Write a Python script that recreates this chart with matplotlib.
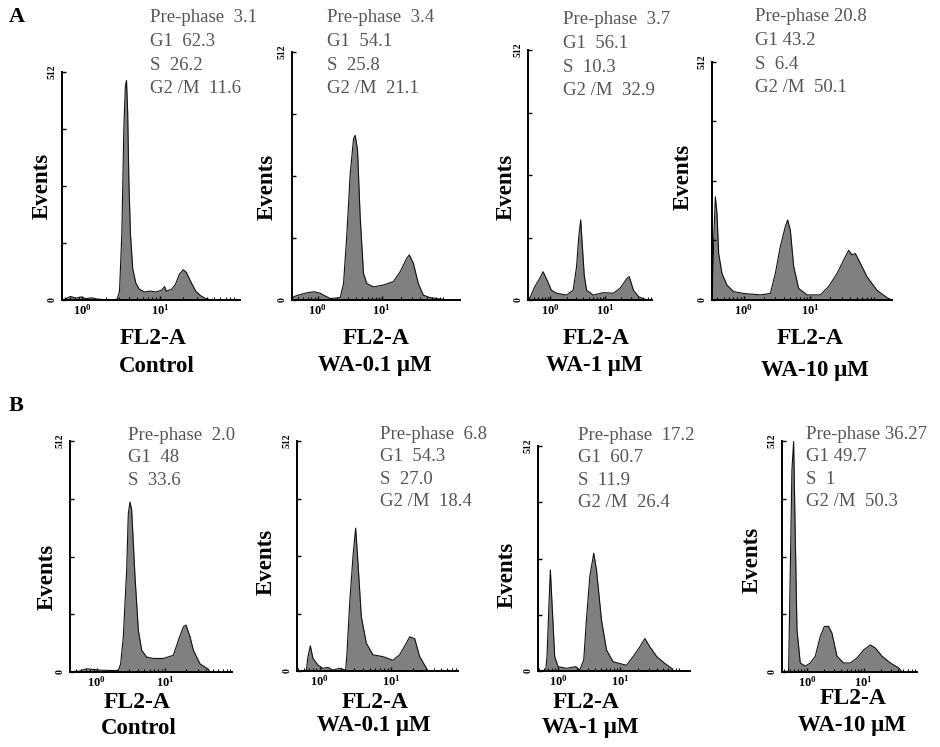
import numpy as np
import matplotlib
matplotlib.use('Agg')
import matplotlib.pyplot as plt

plt.rcParams['font.family'] = ['Liberation Serif', 'DejaVu Serif']
plt.rcParams['mathtext.fontset'] = 'custom'
plt.rcParams['mathtext.rm'] = 'Liberation Serif'
plt.rcParams['mathtext.bf'] = 'Liberation Serif:bold'

W, H = 940, 747

# histograms: log10(FL2-A) position and events (0-512 channel scale)
a1_log = [-0.30, -0.22, -0.15, -0.08, -0.02, 0.05, 0.12, 0.20, 0.28, 0.40, 0.45, 0.48, 0.51, 0.535, 0.555, 0.57, 0.585, 0.60, 0.62, 0.65,
          0.69, 0.73, 0.80, 0.88, 0.95, 1.02, 1.06, 1.08, 1.15, 1.20, 1.25, 1.30, 1.34, 1.40, 1.46, 1.52, 1.58, 1.65]
a1_cnt = [0, 2, 8, 4, 7, 3, 5, 2, 1, 0, 2, 20, 150, 380, 480, 493, 420, 270, 150, 70,
          38, 25, 18, 20, 18, 22, 30, 20, 24, 35, 58, 68, 62, 40, 20, 10, 4, 0]

a2_log = [-0.40, -0.37, -0.30, -0.166, -0.05, 0.04, 0.093, 0.197, 0.352, 0.404, 0.456, 0.508, 0.56, 0.585, 0.622, 0.663, 0.715, 0.767, 0.87, 1.026,
          1.181, 1.285, 1.389, 1.43, 1.492, 1.57, 1.648, 1.751, 1.907, 2.05]
a2_cnt = [0, 7, 10, 15, 17, 14, 10, 3, 5, 34, 137, 261, 333, 340, 310, 172, 55, 34, 27, 31,
          38, 58, 86, 93, 76, 34, 10, 5, 2, 0]

a3_log = [-0.41, -0.38, -0.288, -0.196, -0.135, -0.074, 0.018, 0.11, 0.294, 0.417, 0.479, 0.52, 0.555, 0.585, 0.62, 0.663, 0.785, 0.969, 1.153, 1.276,
          1.399, 1.442, 1.521, 1.613, 1.706, 1.80]
a3_cnt = [0, 3, 27, 44, 58, 44, 20, 14, 10, 20, 68, 130, 164, 110, 50, 20, 10, 15, 14, 24,
          44, 48, 20, 7, 2, 0]

a4_log = [-0.475, -0.46, -0.45, -0.425, -0.40, -0.375, -0.325, -0.25, -0.15, 0.0, 0.25, 0.40, 0.475, 0.55, 0.625, 0.66, 0.70, 0.75, 0.825, 0.95,
          1.15, 1.275, 1.40, 1.50, 1.575, 1.625, 1.675, 1.75, 1.85, 2.0, 2.15, 2.225]
a4_cnt = [0, 60, 129, 222, 186, 100, 57, 32, 18, 14, 11, 14, 57, 115, 158, 172, 150, 72, 25, 11,
          11, 29, 57, 86, 107, 97, 100, 79, 50, 21, 5, 0]

b1_log = [-0.39, -0.366, -0.25, -0.195, -0.146, 0.049, 0.317, 0.351, 0.39, 0.439, 0.463, 0.488, 0.512, 0.561, 0.61, 0.659, 0.732, 0.829, 0.976, 1.122,
          1.195, 1.268, 1.307, 1.366, 1.415, 1.512, 1.634, 1.659]
b1_cnt = [0, 1, 2, 5, 7, 4, 3, 18, 78, 226, 351, 377, 359, 211, 92, 48, 33, 30, 30, 37,
          70, 100, 104, 78, 48, 18, 6, 0]

b2_log = [-0.316, -0.186, -0.163, -0.13, -0.093, -0.023, 0.047, 0.116, 0.186, 0.279, 0.363, 0.381, 0.419, 0.465, 0.502, 0.535, 0.581, 0.651, 0.744, 0.884,
          1.023, 1.116, 1.209, 1.256, 1.326, 1.395, 1.465, 1.512]
b2_cnt = [0, 0, 32, 56, 28, 13, 6, 8, 2, 6, 2, 39, 151, 255, 318, 240, 121, 62, 36, 32,
          24, 36, 62, 76, 72, 32, 13, 0]

b3_log = [-0.324, -0.2, -0.178, -0.146, -0.124, -0.092, -0.054, 0.0, 0.135, 0.286, 0.351, 0.416, 0.459, 0.514, 0.578, 0.622, 0.703, 0.784, 0.892, 1.0,
          1.108, 1.216, 1.324, 1.405, 1.486, 1.595, 1.73, 1.838, 1.865]
b3_cnt = [0, 0, 33, 154, 230, 139, 33, 10, 6, 10, 2, 25, 116, 215, 268, 230, 116, 48, 21, 17,
          13, 33, 55, 74, 55, 33, 17, 6, 0]

b4_log = [-0.44, -0.324, -0.294, -0.265, -0.235, -0.206, -0.176, -0.118, -0.029, 0.059, 0.147, 0.235, 0.306, 0.382, 0.441, 0.529, 0.647, 0.765, 0.882, 1.0,
          1.118, 1.206, 1.324, 1.471, 1.618, 1.676]
b4_cnt = [0, 2, 226, 448, 511, 300, 94, 20, 13, 20, 35, 79, 101, 101, 86, 35, 20, 20, 31, 49,
          60, 53, 35, 20, 9, 0]

conditions = ['Control', 'WA-0.1 \u03bcM', 'WA-1 \u03bcM', 'WA-10 \u03bcM']

a_stats = ['Pre-phase  3.1\nG1  62.3\nS  26.2\nG2 /M  11.6',
           'Pre-phase  3.4\nG1  54.1\nS  25.8\nG2 /M  21.1',
           'Pre-phase  3.7\nG1  56.1\nS  10.3\nG2 /M  32.9',
           'Pre-phase 20.8\nG1 43.2\nS  6.4\nG2 /M  50.1']
b_stats = ['Pre-phase  2.0\nG1  48\nS  33.6',
           'Pre-phase  6.8\nG1  54.3\nS  27.0\nG2 /M  18.4',
           'Pre-phase  17.2\nG1  60.7\nS  11.9\nG2 /M  26.4',
           'Pre-phase 36.27\nG1 49.7\nS  1\nG2 /M  50.3']


def fx(x):
    return x / W


def fy(y):
    return 1 - y / H


fig = plt.figure(figsize=(W / 100, H / 100), dpi=100)

# panel boxes in pixels: left, top(512), right, baseline, log xmin, log xmax
panels = [
    (a1_log, a1_cnt, (62, 72, 240, 300), (-0.26, 2.03)),
    (a2_log, a2_cnt, (292, 52, 460, 300), (-0.40, 2.22)),
    (a3_log, a3_cnt, (528, 50, 652, 300), (-0.41, 1.86)),
    (a4_log, a4_cnt, (712, 62, 892, 300), (-0.475, 2.225)),
    (b1_log, b1_cnt, (70, 441, 232, 672), (-0.39, 1.98)),
    (b2_log, b2_cnt, (297, 441, 458, 671), (-0.316, 1.93)),
    (b3_log, b3_cnt, (538, 446, 690, 671), (-0.324, 2.135)),
    (b4_log, b4_cnt, (782, 441, 917, 672), (-0.44, 1.94)),
]

minor = [m * d for d in (0.1, 1, 10, 100) for m in range(2, 10)]

for lg, cnt, (l, t, r, b), (x0, x1) in panels:
    ax = fig.add_axes([fx(l), fy(b), (r - l) / W, (b - t) / H])
    fl = 10 ** np.array(lg)
    ax.fill_between(fl, cnt, 0, color='#808080', lw=0)
    ax.plot(fl, cnt, color='#111111', lw=0.8)
    ax.set_xscale('log')
    ax.set_xlim(10 ** x0, 10 ** x1)
    ax.set_ylim(0, 512)
    ax.spines[['top', 'right']].set_visible(False)
    for s in ('left', 'bottom'):
        ax.spines[s].set_linewidth(1.4)
    ax.set_yticks([0, 128, 256, 384, 512])
    ax.set_yticklabels(['0', '', '', '', '512'], rotation=90, fontsize=7,
                       fontweight='bold', va='center')
    ax.set_xticks([1, 10])
    ax.set_xticklabels([r'$\mathbf{10^{0}}$', r'$\mathbf{10^{1}}$'], fontsize=9)
    ax.set_xticks([m for m in minor if 10 ** x0 < m < 10 ** x1], minor=True)
    ax.tick_params(axis='both', which='major', direction='in', length=3, width=1, pad=2)
    ax.tick_params(axis='x', which='minor', direction='in', length=2, width=0.8)
    ax.tick_params(axis='y', pad=4)
    ax.patch.set_alpha(0)

# stats text
for (x, y), s in zip([(150, 9), (327, 9), (563, 11), (755, 8)], a_stats):
    fig.text(fx(x), fy(y), s, fontsize=13.5, color='#555555', va='top', ha='left',
             linespacing=1.52)
for (x, y), s in zip([(128, 427), (380, 426), (578, 427), (806, 426)], b_stats):
    fig.text(fx(x), fy(y), s, fontsize=13.5, color='#555555', va='top', ha='left',
             linespacing=1.42)

# Events labels
for x, y in [(42, 186), (267, 187), (506, 187), (683, 177),
             (47, 577), (266, 562), (507, 575), (752, 560)]:
    fig.text(fx(x), fy(y), 'Events', fontsize=16.5, fontweight='bold',
             rotation=90, ha='center', va='center')

# x labels and conditions
a_fl = [(153, 339), (376, 339), (596, 339), (810, 339)]
a_cond = [(157, 366), (375, 366), (594, 366), (815, 371)]
b_fl = [(137, 702), (375, 702), (586, 702), (853, 699)]
b_cond = [(139, 728), (374, 725), (590, 728), (852, 725)]
for (x, y) in a_fl + b_fl:
    fig.text(fx(x), fy(y), 'FL2-A', fontsize=17, fontweight='bold', ha='center', va='center')
for (x, y), c in zip(a_cond + b_cond, conditions + conditions):
    fig.text(fx(x), fy(y), c, fontsize=16.5, fontweight='bold', ha='center', va='center')

fig.text(fx(9), fy(17), 'A', fontsize=16, fontweight='bold', ha='left', va='center')
fig.text(fx(9), fy(406), 'B', fontsize=16, fontweight='bold', ha='left', va='center')

fig.savefig('out.png', dpi=100)
